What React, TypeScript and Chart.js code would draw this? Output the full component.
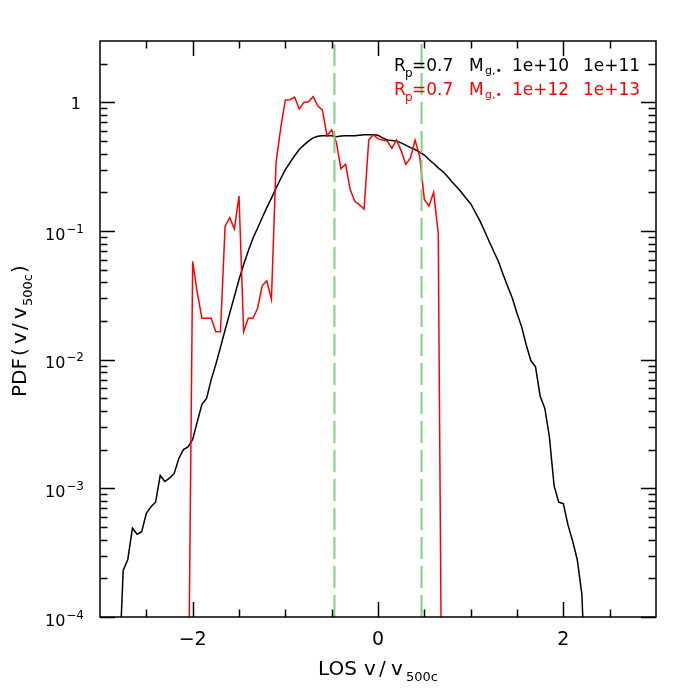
import React, { useEffect, useRef } from 'react';
import { Chart, registerables } from 'chart.js';
Chart.register(...registerables);

const blackX = [-2.80,-2.75,-2.70,-2.65,-2.60,-2.55,-2.50,-2.45,-2.40,-2.35,-2.30,-2.25,-2.20,-2.15,-2.10,-2.05,-2.00,-1.95,-1.90,-1.85,-1.80,-1.75,-1.70,-1.65,-1.60,-1.55,-1.50,-1.45,-1.40,-1.35,-1.30,-1.25,-1.20,-1.15,-1.10,-1.05,-1.00,-0.95,-0.90,-0.85,-0.80,-0.75,-0.70,-0.65,-0.60,-0.55,-0.50,-0.45,-0.40,-0.35,-0.30,-0.25,-0.20,-0.15,-0.10,-0.05,0.00,0.05,0.10,0.15,0.20,0.25,0.30,0.35,0.40,0.45,0.50,0.55,0.60,0.65,0.70,0.75,0.80,0.85,0.90,0.95,1.00,1.05,1.10,1.15,1.20,1.25,1.30,1.35,1.40,1.45,1.50,1.55,1.60,1.65,1.70,1.75,1.80,1.85,1.90,1.95,2.00,2.05,2.10,2.15,2.20,2.25];
const blackY = [3e-5,2.3e-4,2.8e-4,4.9e-4,4.4e-4,4.6e-4,6.4e-4,7.2e-4,7.8e-4,1.26e-3,1.13e-3,1.2e-3,1.3e-3,1.7e-3,2.0e-3,2.1e-3,2.4e-3,3.3e-3,4.5e-3,5.0e-3,7.0e-3,9.2e-3,0.0125,0.017,0.023,0.031,0.042,0.055,0.070,0.088,0.105,0.127,0.152,0.18,0.215,0.255,0.30,0.34,0.385,0.43,0.465,0.50,0.53,0.545,0.55,0.552,0.55,0.54,0.548,0.55,0.55,0.55,0.555,0.56,0.56,0.56,0.555,0.53,0.51,0.505,0.50,0.485,0.465,0.445,0.43,0.41,0.39,0.36,0.335,0.31,0.29,0.265,0.24,0.22,0.20,0.18,0.163,0.14,0.12,0.10,0.083,0.069,0.058,0.046,0.037,0.030,0.023,0.018,0.013,0.0098,0.0088,5.2e-3,4.2e-3,2.5e-3,1.05e-3,7.8e-4,7.6e-4,5.2e-4,3.9e-4,2.8e-4,1.5e-4,2e-5];

const redX = [-2.05,-2.00,-1.95,-1.90,-1.85,-1.80,-1.75,-1.70,-1.65,-1.60,-1.55,-1.50,-1.45,-1.40,-1.35,-1.30,-1.25,-1.20,-1.15,-1.10,-1.05,-1.00,-0.95,-0.90,-0.85,-0.80,-0.75,-0.70,-0.65,-0.60,-0.55,-0.50,-0.45,-0.40,-0.35,-0.30,-0.25,-0.20,-0.15,-0.10,-0.05,0.00,0.05,0.10,0.15,0.20,0.25,0.30,0.35,0.40,0.45,0.50,0.55,0.60,0.65,0.70];
const redY = [1e-5,0.058,0.033,0.021,0.021,0.021,0.0165,0.0165,0.109,0.127,0.104,0.187,0.0165,0.021,0.021,0.025,0.0375,0.041,0.0295,0.34,0.63,1.04,1.05,1.10,0.89,1.0,1.01,1.11,0.94,0.87,0.55,0.61,0.49,0.305,0.33,0.21,0.17,0.16,0.148,0.51,0.56,0.52,0.51,0.50,0.44,0.51,0.42,0.33,0.37,0.51,0.38,0.176,0.156,0.20,0.097,1e-6];

const greenLinesX = [-0.47, 0.47];

const xRange = [-3, 3];
const yRange = [1e-4, 3];
const xMajorTicks = [-2, 0, 2];
const xMajorLabels = ['\u22122', '0', '2'];
const xMinorTicks = [-2.5, -1.5, -1, -0.5, 0.5, 1, 1.5, 2.5];
const yMajorTicks = [1e-4, 1e-3, 1e-2, 1e-1, 1];
const yMajorBase = ['10', '10', '10', '10', '1'];
const yMajorExp = ['\u22124', '\u22123', '\u22122', '\u22121', ''];
const yMinorMultipliers = [2, 3, 4, 5, 6, 7, 8, 9];

const legendRows = [
  { color: '#000000', vals: ['1e+10', '1e+11'] },
  { color: '#ff0000', vals: ['1e+12', '1e+13'] },
];

const FONT = '"DejaVu Sans", sans-serif';

const decorPlugin = {
  id: 'decor',
  afterDraw(chart: any) {
    const { ctx, chartArea: a, scales } = chart;
    const xs = scales.x, ys = scales.y;
    ctx.save();
    ctx.strokeStyle = '#000';
    ctx.lineWidth = 1.5;
    ctx.strokeRect(a.left, a.top, a.right - a.left, a.bottom - a.top);
    const MAJ = 15, MIN = 7.5;
    ctx.beginPath();
    const xt = (v: number, len: number) => {
      const px = Math.round(xs.getPixelForValue(v)) + 0.5;
      ctx.moveTo(px, a.bottom); ctx.lineTo(px, a.bottom - len);
      ctx.moveTo(px, a.top); ctx.lineTo(px, a.top + len);
    };
    xMajorTicks.forEach(v => xt(v, MAJ));
    xMinorTicks.forEach(v => xt(v, MIN));
    const yt = (v: number, len: number) => {
      const py = Math.round(ys.getPixelForValue(v)) + 0.5;
      ctx.moveTo(a.left, py); ctx.lineTo(a.left + len, py);
      ctx.moveTo(a.right, py); ctx.lineTo(a.right - len, py);
    };
    yMajorTicks.forEach(v => yt(v, MAJ));
    yMajorTicks.forEach(d => yMinorMultipliers.forEach(m => {
      const v = d * m;
      if (v < yRange[1]) yt(v, MIN);
    }));
    ctx.stroke();

    ctx.fillStyle = '#000';
    // x tick labels
    ctx.font = '19px ' + FONT;
    ctx.textAlign = 'center';
    ctx.textBaseline = 'alphabetic';
    xMajorTicks.forEach((v, i) => {
      ctx.fillText(xMajorLabels[i], xs.getPixelForValue(v), 645);
    });
    // y tick labels
    yMajorTicks.forEach((v, i) => {
      const py = ys.getPixelForValue(v);
      const right = 84;
      ctx.textAlign = 'left';
      if (yMajorExp[i]) {
        ctx.font = '12px ' + FONT;
        const ew = ctx.measureText(yMajorExp[i]).width;
        ctx.font = '16px ' + FONT;
        const bw = ctx.measureText(yMajorBase[i]).width;
        const x0 = right - ew - bw - 1;
        ctx.fillText(yMajorBase[i], x0, py + 8.5);
        ctx.font = '12px ' + FONT;
        ctx.fillText(yMajorExp[i], x0 + bw + 1, py + 1.5);
      } else {
        ctx.font = '16px ' + FONT;
        ctx.textAlign = 'right';
        ctx.fillText(yMajorBase[i], right - 3, py + 7);
      }
    });

    // x title
    ctx.textAlign = 'left';
    ctx.font = '20px ' + FONT;
    ctx.fillText('LOS', 318, 675);
    ctx.fillText('v', 364, 675);
    ctx.fillText('/', 379, 675);
    ctx.fillText('v', 391, 675);
    ctx.font = '13px ' + FONT;
    ctx.fillText('500c', 406, 681);

    // y title
    ctx.save();
    ctx.translate(26, 397);
    ctx.rotate(-Math.PI / 2);
    ctx.font = '20px ' + FONT;
    ctx.fillText('PDF', 0, 0);
    ctx.fillText('(', 41, 0);
    ctx.fillText('v', 53, 0);
    ctx.fillText('/', 67, 0);
    ctx.fillText('v', 78, 0);
    ctx.font = '13px ' + FONT;
    ctx.fillText('500c', 91, 6);
    ctx.font = '20px ' + FONT;
    ctx.fillText(')', 124, 0);
    ctx.restore();

    // legend text
    legendRows.forEach((row, i) => {
      const base = 71 + i * 24;
      ctx.fillStyle = row.color;
      ctx.font = '17px ' + FONT;
      ctx.fillText('R', 394, base);
      ctx.font = '12px ' + FONT;
      ctx.fillText('p', 405, base + 6);
      ctx.font = '17px ' + FONT;
      ctx.fillText('=0.7', 412, base);
      ctx.fillText('M', 469, base);
      ctx.font = '11px ' + FONT;
      ctx.fillText('g,\u2022', 485, base + 3);
      ctx.font = '17px ' + FONT;
      ctx.fillText(row.vals[0], 512, base);
      ctx.fillText(row.vals[1], 583, base);
    });
    ctx.restore();
  },
};

export default function App() {
  const ref = useRef<HTMLCanvasElement>(null);
  useEffect(() => {
    if (!ref.current) return;
    const pts = (xs: number[], ys: number[]) => xs.map((x, i) => ({ x, y: ys[i] }));
    const chart = new Chart(ref.current, {
      type: 'line',
      data: {
        datasets: [
          ...greenLinesX.map(g => ({
            data: [{ x: g, y: yRange[0] }, { x: g, y: yRange[1] }],
            borderColor: '#80d080',
            borderWidth: 2,
            borderDash: [22, 7],
            pointRadius: 0,
            order: 0,
          })),
          {
            data: pts(redX, redY),
            borderColor: '#ff0000',
            borderWidth: 1.5,
            pointRadius: 0,
            order: 1,
          },
          {
            data: pts(blackX, blackY),
            borderColor: '#000000',
            borderWidth: 1.5,
            pointRadius: 0,
            order: 2,
          },
        ],
      },
      options: {
        animation: false,
        responsive: false,
        maintainAspectRatio: false,
        devicePixelRatio: 1,
        layout: { padding: { left: 100, top: 41, right: 26, bottom: 77 } },
        plugins: { legend: { display: false }, tooltip: { enabled: false } },
        elements: { line: { tension: 0 } },
        scales: {
          x: { type: 'linear', min: xRange[0], max: xRange[1], display: false },
          y: { type: 'logarithmic', min: yRange[0], max: yRange[1], display: false },
        },
      },
      plugins: [decorPlugin],
    });
    return () => chart.destroy();
  }, []);
  return (
    <div style={{ position: 'fixed', left: 0, top: 0, width: 682, height: 694, background: '#fff' }}>
      <canvas ref={ref} width={682} height={694} />
    </div>
  );
}
